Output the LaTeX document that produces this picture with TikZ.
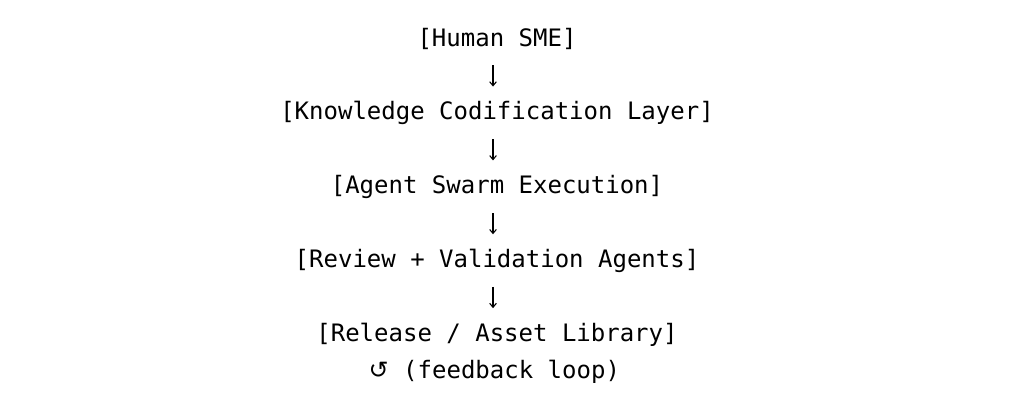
\documentclass[tikz,border=0pt]{standalone}
\usepackage{fontspec}
\setmonofont{DejaVu Sans Mono}
\newfontfamily\loopfont{DejaVu Sans}
\usepackage{tikz}
\usetikzlibrary{positioning,arrows.meta}

\begin{document}
\begin{tikzpicture}[
layer/.style={font=\ttfamily\fontsize{18}{21}\selectfont, inner sep=0pt, text height=13pt, text depth=4pt},
flow/.style={-{Straight Barb[length=3pt,width=5pt]}, line width=0.8pt, shorten <=10.3pt, shorten >=11.8pt, transform canvas={xshift=-3pt}},
]
\useasboundingbox (0,0) rectangle (756.75pt,-303.75pt);

\node[layer, anchor=base] (sme) at (372.75pt,-34.5pt) {[Human SME]};
\node[layer] (codify) [below=38pt of sme] {[Knowledge Codification Layer]};
\node[layer] (swarm) [below=38pt of codify] {[Agent Swarm Execution]};
\node[layer] (review) [below=38pt of swarm] {[Review + Validation Agents]};
\node[layer] (release) [below=38pt of review] {[Release / Asset Library]};
\node[layer] (feedback) [below=10.5pt of release, xshift=-2pt] {{\loopfont ↺} (feedback loop)};

%Pipeline
\draw[flow] (sme.south) -- (codify.north);
\draw[flow] (codify.south) -- (swarm.north);
\draw[flow] (swarm.south) -- (review.north);
\draw[flow] (review.south) -- (release.north);
\end{tikzpicture}
\end{document}
